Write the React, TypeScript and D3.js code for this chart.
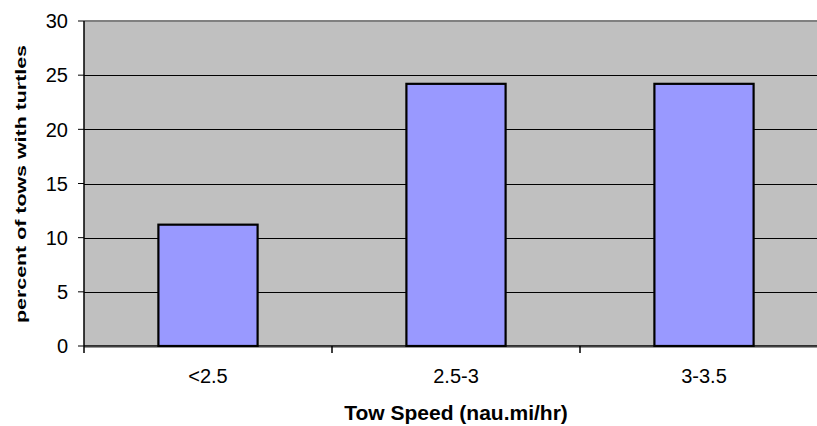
import React from "react";
import * as d3 from "d3";

const categories = ["<2.5", "2.5-3", "3-3.5"];
const values = [11.2, 24.2, 24.2];
const yTicks = [0, 5, 10, 15, 20, 25, 30];
const yLabel = "percent of tows with turtles";
const xLabel = "Tow Speed (nau.mi/hr)";

export default function App() {
  const W = 817, H = 426;
  const left = 84, right = 828, top = 21, bottom = 346;
  const x = d3.scaleBand<string>().domain(categories).range([left, right]).paddingInner(0.6).paddingOuter(0.3);
  const xb = d3.scaleBand<string>().domain(categories).range([left, right]);
  const y = d3.scaleLinear().domain([0, 30]).range([bottom, top]);
  const font = "Arial, 'Liberation Sans', sans-serif";
  return (
    <svg width={W} height={H} style={{ position: "absolute", left: 0, top: 0, display: "block" }}>
      <rect x={0} y={0} width={W} height={H} fill="#fff" />
      <rect x={left} y={top} width={right - left} height={bottom - top} fill="#C0C0C0" />
      <line x1={left} x2={right} y1={top} y2={top} stroke="#808080" strokeWidth={2} />
      {yTicks.filter(t => t > 0 && t < 30).map(t => (
        <line key={t} x1={left} x2={right} y1={Math.round(y(t)) + 0.5} y2={Math.round(y(t)) + 0.5} stroke="#000" strokeWidth={1} />
      ))}
      {categories.map((c, i) => (
        <rect key={c} x={x(c)!} y={y(values[i])} width={x.bandwidth()} height={bottom - y(values[i])}
          fill="#9999FF" stroke="#000" strokeWidth={2.2} />
      ))}
      <line x1={left} x2={left} y1={top} y2={bottom} stroke="#000" strokeWidth={1.5} />
      <line x1={left} x2={right} y1={bottom} y2={bottom} stroke="#000" strokeWidth={1.5} />
      <line x1={left} x2={right} y1={bottom + 1.5} y2={bottom + 1.5} stroke="#999" strokeWidth={1} />
      {yTicks.map(t => (
        <g key={t}>
          <line x1={left - 6} x2={left} y1={y(t)} y2={y(t)} stroke="#000" strokeWidth={1} />
          <text x={68} y={y(t)} dy="0.36em" textAnchor="end" fontFamily={font} fontSize={20}>{t}</text>
        </g>
      ))}
      {categories.map(c => (
        <line key={"t" + c} x1={xb(c)!} x2={xb(c)!} y1={bottom} y2={bottom + 7} stroke="#000" strokeWidth={1.5} />
      ))}
      {categories.map(c => (
        <text key={"l" + c} x={x(c)! + x.bandwidth() / 2} y={383} textAnchor="middle" fontFamily={font} fontSize={20}>{c}</text>
      ))}
      <text x={(left + right) / 2} y={420} textAnchor="middle" fontFamily={font} fontSize={21} fontWeight="bold">{xLabel}</text>
      <text transform={`translate(26,184) rotate(-90)`} textAnchor="middle" fontFamily={font} fontSize={15} fontWeight="bold"
        textLength={278} lengthAdjust="spacingAndGlyphs">{yLabel}</text>
    </svg>
  );
}
